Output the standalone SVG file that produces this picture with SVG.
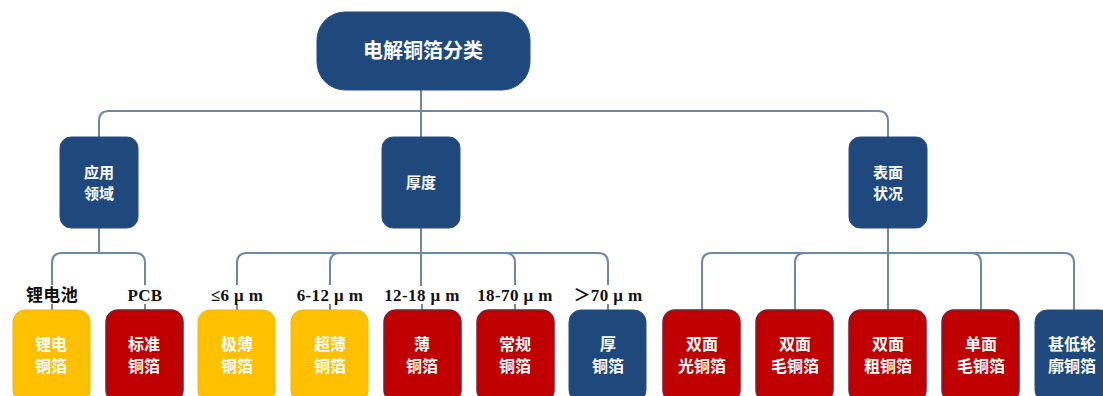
<svg xmlns="http://www.w3.org/2000/svg" width="1103" height="396" viewBox="0 0 1103 396">
<style>
.c{fill:none;stroke:#6f88a6;stroke-width:2}
.blue{fill:#1f497d;stroke:#2a4f7e;stroke-width:1}
.red{fill:#c00000;stroke:#7a1f33;stroke-width:1.5}
.yel{fill:#ffc000;stroke:#f5b800;stroke-width:1}
.t{font-family:"Noto Sans CJK SC","Noto Sans",sans-serif;font-weight:bold;fill:#ffffff;text-anchor:middle}
.b{font-size:16px}
.l{font-family:"Liberation Serif","Noto Sans CJK SC",serif;font-weight:bold;fill:#111111;text-anchor:middle;font-size:17px;letter-spacing:0.4px}
</style>
<rect width="1103" height="396" fill="#ffffff"/>
<g id="connectors">
<path class="c" d="M421,90 V137"/>
<path class="c" d="M421,111 H109 Q99,111 99,121 V137"/>
<path class="c" d="M421,111 H878 Q888,111 888,121 V137"/>
<path class="c" d="M99,228 V253 H62 Q52,253 52,263 V285"/>
<path class="c" d="M99,253 H135 Q145,253 145,263 V285"/>
<path class="c" d="M421,228 V286"/>
<path class="c" d="M421,253 H247 Q237,253 237,263 V285"/>
<path class="c" d="M421,253 H340 Q330,253 330,263 V285"/>
<path class="c" d="M421,253 H505 Q515,253 515,263 V285"/>
<path class="c" d="M421,253 H598 Q608,253 608,263 V285"/>
<path class="c" d="M888,228 V310"/>
<path class="c" d="M888,253 H712 Q702,253 702,263 V310"/>
<path class="c" d="M888,253 H805 Q795,253 795,263 V310"/>
<path class="c" d="M888,253 H971 Q981,253 981,263 V310"/>
<path class="c" d="M888,253 H1064 Q1074,253 1074,263 V310"/>
<path class="c" d="M52,304 V310 M145,304 V310 M237,304 V310 M330,304 V310 M422,304 V310 M515,304 V310 M608,304 V310"/>
</g>
<g id="root"><rect class="blue" x="317" y="12" width="213" height="78" rx="28"/><text class="t" x="423" y="58" font-size="20">电解铜箔分类</text></g>
<g id="app"><rect class="blue" x="60" y="137" width="78" height="91" rx="11"/><text class="t" x="99" y="178" font-size="15">应用</text><text class="t" x="99" y="199" font-size="15">领域</text></g>
<g id="thick"><rect class="blue" x="382" y="137" width="78" height="91" rx="11"/><text class="t" x="421" y="188" font-size="15">厚度</text></g>
<g id="surf"><rect class="blue" x="849" y="137" width="78" height="91" rx="11"/><text class="t" x="888" y="178" font-size="15">表面</text><text class="t" x="888" y="199" font-size="15">状况</text></g>
<g id="labels">
<text class="l" x="52" y="301">锂电池</text>
<text class="l" x="145" y="301">PCB</text>
<text class="l" x="237" y="301">≤6 μ m</text>
<text class="l" x="330" y="301">6-12 μ m</text>
<text class="l" x="422" y="301">12-18 μ m</text>
<text class="l" x="515" y="301">18-70 μ m</text>
<text class="l" x="608" y="301">＞70 μ m</text>
</g>
<g id="n1"><rect class="yel" x="13" y="310" width="77" height="92" rx="12"/><text class="t b" x="51" y="350">锂电</text><text class="t b" x="51" y="372">铜箔</text></g>
<g id="n2"><rect class="red" x="106" y="310" width="77" height="92" rx="12"/><text class="t b" x="144" y="350">标准</text><text class="t b" x="144" y="372">铜箔</text></g>
<g id="n3"><rect class="yel" x="198" y="310" width="77" height="92" rx="12"/><text class="t b" x="237" y="350">极薄</text><text class="t b" x="237" y="372">铜箔</text></g>
<g id="n4"><rect class="yel" x="291" y="310" width="77" height="92" rx="12"/><text class="t b" x="330" y="350">超薄</text><text class="t b" x="330" y="372">铜箔</text></g>
<g id="n5"><rect class="red" x="384" y="310" width="77" height="92" rx="12"/><text class="t b" x="422" y="350">薄</text><text class="t b" x="422" y="372">铜箔</text></g>
<g id="n6"><rect class="red" x="477" y="310" width="77" height="92" rx="12"/><text class="t b" x="515" y="350">常规</text><text class="t b" x="515" y="372">铜箔</text></g>
<g id="n7"><rect class="blue" x="569" y="310" width="77" height="92" rx="12"/><text class="t b" x="608" y="350">厚</text><text class="t b" x="608" y="372">铜箔</text></g>
<g id="n8"><rect class="red" x="663" y="310" width="77" height="92" rx="12"/><text class="t b" x="702" y="350">双面</text><text class="t b" x="702" y="372">光铜箔</text></g>
<g id="n9"><rect class="red" x="756" y="310" width="77" height="92" rx="12"/><text class="t b" x="795" y="350">双面</text><text class="t b" x="795" y="372">毛铜箔</text></g>
<g id="n10"><rect class="red" x="849" y="310" width="77" height="92" rx="12"/><text class="t b" x="888" y="350">双面</text><text class="t b" x="888" y="372">粗铜箔</text></g>
<g id="n11"><rect class="red" x="942" y="310" width="77" height="92" rx="12"/><text class="t b" x="981" y="350">单面</text><text class="t b" x="981" y="372">毛铜箔</text></g>
<g id="n12"><rect class="blue" x="1035" y="310" width="77" height="92" rx="12"/><text class="t b" x="1072" y="350">甚低轮</text><text class="t b" x="1072" y="372">廓铜箔</text></g>
</svg>
